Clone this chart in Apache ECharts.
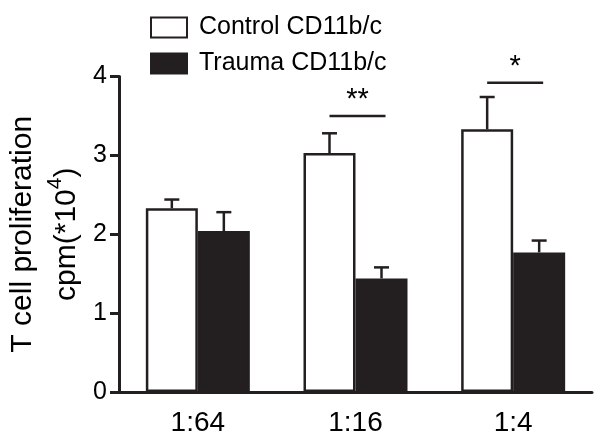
<!DOCTYPE html>
<html>
<head>
<meta charset="utf-8">
<script src="https://cdn.jsdelivr.net/npm/echarts@6/dist/echarts.min.js"></script>
<style>html,body{margin:0;padding:0;background:#fff;}#c{width:600px;height:441px;}</style>
</head>
<body>
<div id="c"></div>
<script>
const categories = ['1:64', '1:16', '1:4'];
const seriesNames = ['Control CD11b/c', 'Trauma CD11b/c'];
const controlValues = [2.33, 3.03, 3.33];
const traumaValues = [2.04, 1.44, 1.77];
const controlErrTop = [2.44, 3.28, 3.74];
const traumaErrTop = [2.28, 1.58, 1.92];
const sigLevels = [null, 3.50, 3.92];
const sigMarks = ['', '**', '*'];
const yTicks = [0, 1, 2, 3, 4];

const INK = '#231f20';
const FONT = '"Liberation Sans", Arial, sans-serif';
const BAR_W = 52;
const CAP_HALF = 7.5;

function errorRender(sign) {
  return function (params, api) {
    const i = api.value(0);
    const base = api.coord([i, api.value(1)]);
    const top = api.coord([i, api.value(2)]);
    const cx = base[0] + sign * BAR_W / 2;
    const st = { stroke: INK, lineWidth: 2.5 };
    return {
      type: 'group',
      children: [
        { type: 'line', shape: { x1: cx, y1: base[1], x2: cx, y2: top[1] }, style: st },
        { type: 'line', shape: { x1: cx - CAP_HALF, y1: top[1], x2: cx + CAP_HALF, y2: top[1] }, style: st }
      ]
    };
  };
}

const errCtrlData = categories.map((c, i) => [i, controlValues[i], controlErrTop[i]]);
const errTrData = categories.map((c, i) => [i, traumaValues[i], traumaErrTop[i]]);
const sigData = [];
sigLevels.forEach((v, i) => { if (v != null) sigData.push([i, v, sigMarks[i]]); });

const chart = echarts.init(document.getElementById('c'), null, { renderer: 'canvas' });
chart.setOption({
  animation: false,
  backgroundColor: '#fff',
  textStyle: { fontFamily: FONT },
  grid: { left: 119, right: 8, top: 76.5, bottom: 49, containLabel: false, outerBoundsMode: 'none' },
  legend: {
    data: seriesNames,
    orient: 'vertical',
    left: 145,
    top: 10,
    icon: 'rect',
    itemWidth: 36,
    itemHeight: 20,
    itemGap: 11,
    textStyle: { fontSize: 25, color: '#000', fontFamily: FONT, lineHeight: 25, padding: [0, 0, 0, 7] }
  },
  xAxis: {
    type: 'category',
    data: categories,
    axisLine: { lineStyle: { color: INK, width: 3 } },
    axisTick: { alignWithLabel: true, length: 9, lineStyle: { color: INK, width: 3 } },
    axisLabel: { fontSize: 28, color: '#000', margin: 17, fontFamily: FONT },
    splitLine: { show: false }
  },
  yAxis: {
    type: 'value',
    min: yTicks[0],
    max: yTicks[yTicks.length - 1],
    interval: 1,
    axisLine: { show: true, lineStyle: { color: INK, width: 3 } },
    axisTick: { show: true, length: 9, lineStyle: { color: INK, width: 3 } },
    axisLabel: { fontSize: 25, color: '#000', margin: 12, fontFamily: FONT },
    splitLine: { show: false },
    name: '{t|T cell proliferation}\n{a|cpm(*10}{s|4}{a|)}',
    nameLocation: 'middle',
    nameRotate: 90,
    nameGap: 16,
    nameTextStyle: {
      fontFamily: FONT,
      color: '#000',
      rich: {
        t: { fontSize: 30, lineHeight: 44, fontFamily: FONT, color: '#000' },
        a: { fontSize: 30, lineHeight: 44, fontFamily: FONT, color: '#000' },
        s: { fontSize: 21, lineHeight: 21, verticalAlign: 'top', fontFamily: FONT, color: '#000' }
      }
    }
  },
  series: [
    {
      name: seriesNames[0], type: 'bar', data: controlValues, barWidth: BAR_W, barGap: '0%',
      itemStyle: { color: '#fff', borderColor: INK, borderWidth: 2.5 }
    },
    {
      name: seriesNames[1], type: 'bar', data: traumaValues, barWidth: BAR_W, barGap: '0%',
      itemStyle: { color: INK, borderColor: INK, borderWidth: 2.5 }
    },
    { type: 'custom', renderItem: errorRender(-1), data: errCtrlData, z: 5, silent: true },
    { type: 'custom', renderItem: errorRender(1), data: errTrData, z: 5, silent: true },
    {
      type: 'custom', z: 5, silent: true, data: sigData,
      renderItem: function (params, api) {
        const i = api.value(0);
        const p = api.coord([i, api.value(1)]);
        const mark = sigMarks[i];
        return {
          type: 'group',
          children: [
            { type: 'line', shape: { x1: p[0] - BAR_W / 2, y1: p[1], x2: p[0] + BAR_W / 2 + 4, y2: p[1] }, style: { stroke: INK, lineWidth: 2.5 } },
            { type: 'text', style: { x: p[0] + 2, y: p[1] - 16, text: mark, fontSize: 29, fontFamily: FONT, fill: '#000', align: 'center', verticalAlign: 'middle' } }
          ]
        };
      }
    }
  ]
});
</script>
</body>
</html>
